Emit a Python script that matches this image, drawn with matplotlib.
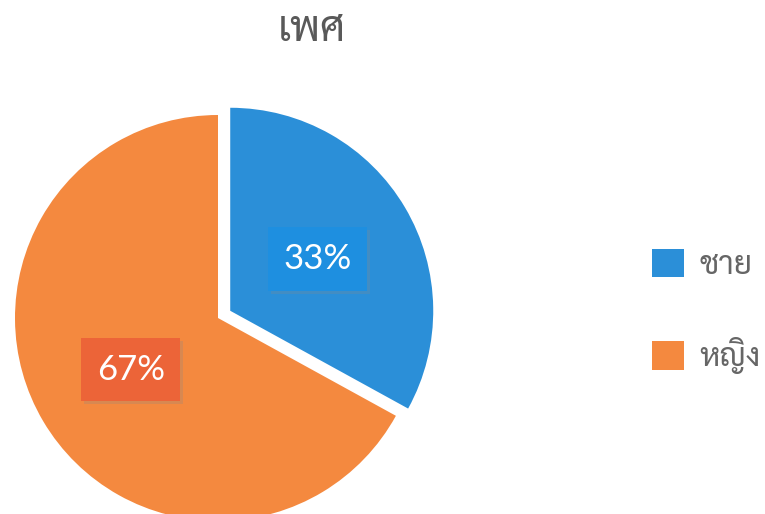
import matplotlib
matplotlib.use("Agg")
import matplotlib.pyplot as plt
import matplotlib.patheffects as pe

# ข้อมูล
labels = ["ชาย", "หญิง"]
values = [33, 67]
colors = ["#2b8fd8", "#f4893f"]
box_colors = ["#1e8fe0", "#ec6438"]

thai = ["Sarabun", "DejaVu Sans"]

fig = plt.figure(figsize=(7.65, 5.14), dpi=100)
ax = fig.add_axes([0, 0, 1, 1])

wedges, texts, autotexts = ax.pie(
    values,
    colors=colors,
    startangle=90,
    counterclock=False,
    explode=[0.07, 0],
    radius=1,
    autopct="%1.0f%%",
    pctdistance=0.5,
)

# กล่องตัวเลข
for t, bc in zip(autotexts, box_colors):
    t.set_color("white")
    t.set_fontsize(25)
    t.set_family("Lato")
    t.set_bbox(dict(boxstyle="square,pad=0.45", facecolor=bc, edgecolor="none"))
    t.get_bbox_patch().set_path_effects(
        [pe.withSimplePatchShadow(offset=(2, -2), shadow_rgbFace="#888888", alpha=0.25)]
    )

# จัดตำแหน่งให้วงกลมล้นขอบล่าง
ax.set_xlim(-218 / 203, (765 - 218) / 203)
ax.set_ylim(-196 / 203, 318 / 203)
ax.set_aspect("equal")
ax.axis("off")

fig.text(0.407, 0.942, "เพศ", ha="center", va="center",
         fontsize=30, color="#595959", family=thai)

leg = ax.legend(
    wedges, labels,
    loc="center left",
    bbox_to_anchor=(0.852, 0.394),
    bbox_transform=fig.transFigure,
    frameon=False,
    borderaxespad=0, borderpad=0,
    handlelength=1.0, handleheight=1.0,
    handletextpad=0.5, labelspacing=1.75,
    prop={"family": thai, "size": 23},
)
for txt in leg.get_texts():
    txt.set_color("#666666")

fig.savefig("out.png", dpi=100)
